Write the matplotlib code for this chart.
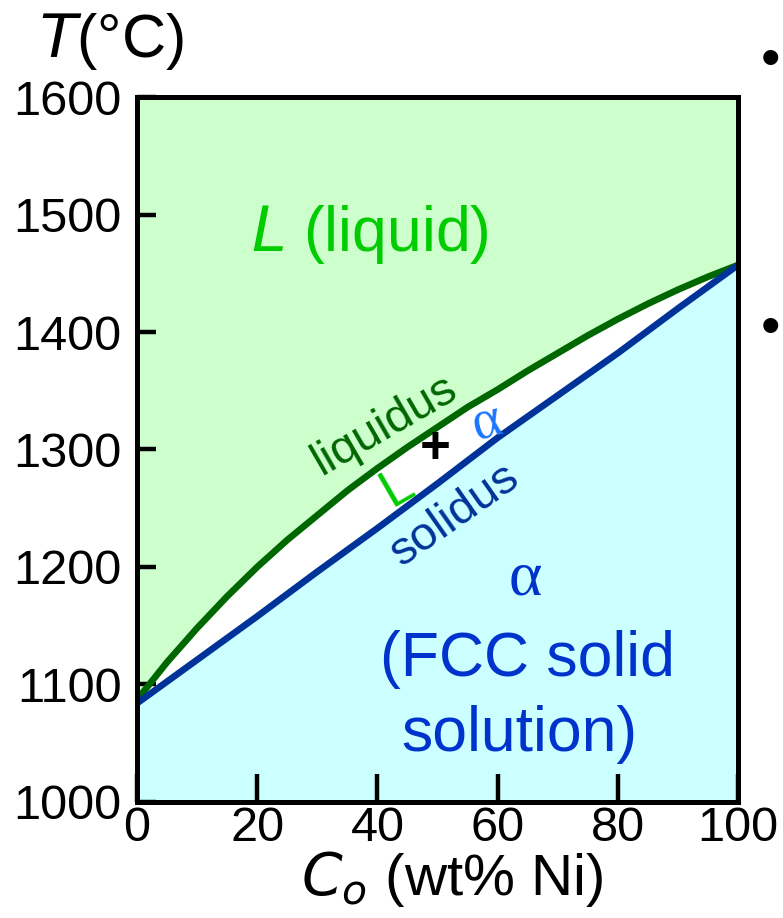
import numpy as np
import matplotlib.pyplot as plt

# Cu-Ni phase diagram, composition in wt% Ni
ni_liq = [0, 5, 10, 15, 20, 25, 30, 35, 40, 45, 50, 55, 60, 65, 70, 75, 80, 85, 90, 95, 100]
liquidus_T = [1087, 1119, 1148, 1175, 1200, 1223, 1244, 1265, 1284, 1302, 1319, 1336,
              1351, 1367, 1382, 1397, 1411, 1424, 1436, 1447, 1457]
ni_sol = [0, 10, 20, 30, 40, 50, 60, 70, 80, 90, 100]
solidus_T = [1084, 1121, 1158, 1196, 1233, 1271, 1310, 1346, 1382, 1420, 1457]
x_ticks = [0, 20, 40, 60, 80, 100]
y_ticks = [1000, 1100, 1200, 1300, 1400, 1500, 1600]

plt.rcParams['font.family'] = ['Liberation Sans', 'DejaVu Sans']

fig = plt.figure(figsize=(7.83, 9.18), dpi=100)
ax = fig.add_axes([0.175, 0.1264, 0.7675, 0.7679])

xl = np.array(ni_liq)
liq = np.array(liquidus_T)
xs = np.array(ni_sol)
sol = np.array(solidus_T)

ax.fill_between(xl, liq, 1600, color='#ccffcc', lw=0)
ax.fill_between(xs, 1000, sol, color='#ccffff', lw=0)
ax.plot(xl, liq, color='#006600', lw=4.8, solid_capstyle='butt', zorder=3)
ax.plot(xs, sol, color='#003399', lw=4.8, solid_capstyle='butt', zorder=3)

ax.set_xlim(0, 100)
ax.set_ylim(1000, 1600)
ax.set_xticks(x_ticks)
ax.set_yticks(y_ticks)
ax.tick_params(axis='x', direction='in', length=20, width=3.2, pad=3, labelsize=35)
ax.tick_params(axis='y', direction='in', length=14, width=3.2, pad=11, labelsize=35)
for s in ax.spines.values():
    s.set_linewidth(3.6)
    s.set_zorder(5)

# axis titles
fig.text(0.577, 0.042, r'$\mathit{C_o}$ (wt% Ni)', fontsize=42, ha='center', va='center')
fig.text(0.05, 0.955, r'$\mathit{T}$(°C)', fontsize=44, ha='left', va='center')

# region labels
ax.text(38.8, 1483, r'$L$ (liquid)', color='#00cc00', fontsize=45, ha='center', va='center')
ax.text(64.6, 1189, 'α', color='#0033cc', fontsize=46, ha='center', va='center',
        family='Liberation Serif')
ax.text(64.9, 1121, '(FCC solid', color='#0033cc', fontsize=45, ha='center', va='center')
ax.text(63.7, 1057, 'solution)', color='#0033cc', fontsize=45, ha='center', va='center')

# curve names and two-phase field
ax.text(41.3, 1321, 'liquidus', color='#006600', fontsize=34, rotation=30,
        ha='center', va='center', rotation_mode='anchor')
ax.text(52.9, 1244, 'solidus', color='#003399', fontsize=34, rotation=35,
        ha='center', va='center', rotation_mode='anchor')
ax.text(43.4, 1268, 'L', color='#00cc00', fontsize=38, rotation=30,
        ha='center', va='center', rotation_mode='anchor')
ax.text(49.6, 1300, '+', color='black', fontsize=38, fontweight='bold',
        ha='center', va='center')
ax.text(58.2, 1322, 'α', color='#1a75ff', fontsize=40, rotation=15,
        ha='center', va='center', rotation_mode='anchor', family='Liberation Serif')

# bullet marks at the right edge
fig.text(0.972, 0.933, '•', fontsize=40, ha='left', va='center')
fig.text(0.972, 0.64, '•', fontsize=40, ha='left', va='center')

fig.savefig('out.png', dpi=100)
